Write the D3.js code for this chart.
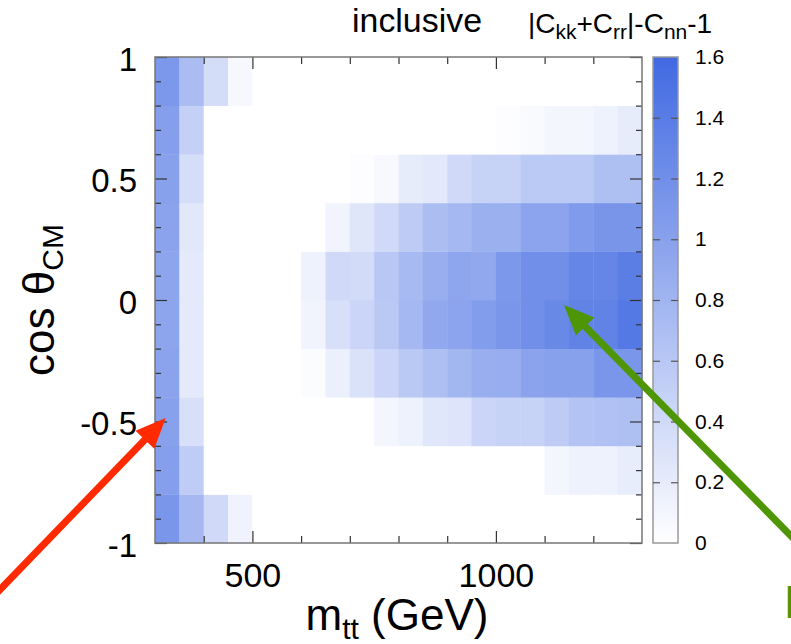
<!DOCTYPE html>
<html>
<head>
<meta charset="utf-8">
<script src="https://cdn.jsdelivr.net/npm/d3@7"></script>
<style>
  body { margin: 0; background: #fff; }
  text { font-family: "Liberation Sans", Arial, Helvetica, sans-serif; }
</style>
</head>
<body>
<div id="chart"></div>
<script>
// Bin edges.
const mttEdges = [300, 350, 400, 450, 500, 550, 600, 650, 700, 750, 800,
                  850, 900, 950, 1000, 1050, 1100, 1150, 1200, 1250, 1300];
const cosEdges = [-1, -0.8, -0.6, -0.4, -0.2, 0, 0.2, 0.4, 0.6, 0.8, 1];

// |Ckk+Crr|-Cnn-1 per cos bin (bottom to top), one value per mtt bin.
const binM10 = [1.12, 0.76, 0.40, 0.13, 0, 0, 0, 0, 0, 0, 0, 0, 0, 0, 0, 0, 0, 0, 0, 0];
const binM08 = [1.02, 0.54, 0, 0, 0, 0, 0, 0, 0, 0, 0, 0, 0, 0, 0, 0, 0.10, 0.14, 0.14, 0.19];
const binM06 = [1.00, 0.34, 0, 0, 0, 0, 0, 0, 0, 0.10, 0.14, 0.26, 0.28, 0.45, 0.48, 0.48, 0.56, 0.64, 0.66, 0.68];
const binM04 = [0.98, 0.23, 0, 0, 0, 0, 0.03, 0.16, 0.31, 0.45, 0.58, 0.68, 0.78, 0.86, 0.88, 0.98, 1.00, 1.00, 1.12, 1.12];
const binM02 = [0.96, 0.23, 0, 0, 0, 0, 0.12, 0.33, 0.45, 0.58, 0.76, 0.93, 0.97, 1.05, 1.12, 1.20, 1.26, 1.32, 1.32, 1.43];
const binP00 = [0.96, 0.23, 0, 0, 0, 0, 0.14, 0.40, 0.38, 0.60, 0.74, 0.86, 0.95, 0.93, 1.10, 1.20, 1.20, 1.30, 1.30, 1.38];
const binP02 = [0.98, 0.25, 0, 0, 0, 0, 0, 0.12, 0.27, 0.40, 0.55, 0.70, 0.76, 0.84, 0.84, 0.97, 0.97, 1.07, 1.13, 1.13];
const binP04 = [1.00, 0.35, 0, 0, 0, 0, 0, 0, 0.02, 0.06, 0.20, 0.24, 0.40, 0.48, 0.48, 0.57, 0.57, 0.57, 0.68, 0.68];
const binP06 = [1.02, 0.50, 0, 0, 0, 0, 0, 0, 0, 0, 0, 0, 0, 0, 0.02, 0.05, 0.10, 0.10, 0.14, 0.20];
const binP08 = [1.10, 0.72, 0.36, 0.07, 0, 0, 0, 0, 0, 0, 0, 0, 0, 0, 0, 0, 0, 0, 0, 0];
const rows = [binM10, binM08, binM06, binM04, binM02, binP00, binP02, binP04, binP06, binP08];

// Ticks.
const xMajorTicks = [500, 1000];
const xMinorTicks = [400, 600, 700, 800, 900, 1100, 1200];
const yMajorTicks = [-1, -0.5, 0, 0.5, 1];
const yMinorTicks = [-0.9, -0.8, -0.7, -0.6, -0.4, -0.3, -0.2, -0.1, 0.1, 0.2, 0.3, 0.4, 0.6, 0.7, 0.8, 0.9];
const colorTicks = [0, 0.2, 0.4, 0.6, 0.8, 1, 1.2, 1.4, 1.6];
const colorDashes = [0.2, 0.4, 0.6, 0.8, 1, 1.2, 1.4];

// Annotation arrows, in data coordinates (tip, tail).
const arrows = [
  { tip: [322, -0.486], tail: [-27, -1.21], color: '#ff2a00' },
  { tip: [1140, -0.021], tail: [1635, -1.03], color: '#4e9606' }
];

// Dimensions.
const W = 791, H = 644;
const plot = { left: 155, right: 642, top: 57, bottom: 543 };
const bar = { left: 653, right: 678 };
const plain = d => String(d);

const svg = d3.select('#chart').append('svg')
  .attr('width', W).attr('height', H);

const x = d3.scaleLinear().domain([300, 1300]).range([plot.left, plot.right]);
const y = d3.scaleLinear().domain([-1, 1]).range([plot.bottom, plot.top]);
const color = d3.scaleLinear().domain([0, 1.6]).range(['#ffffff', '#4169e1'])
  .interpolate(d3.interpolateRgb).clamp(true);

// Cells.
const cells = [];
rows.forEach((row, i) => row.forEach((v, j) => cells.push({ i, j, v })));

svg.append('g').selectAll('rect')
  .data(cells)
  .enter().append('rect')
  .attr('x', d => x(mttEdges[d.j]))
  .attr('y', d => y(cosEdges[d.i + 1]))
  .attr('width', d => x(mttEdges[d.j + 1]) - x(mttEdges[d.j]) + 0.4)
  .attr('height', d => y(cosEdges[d.i]) - y(cosEdges[d.i + 1]) + 0.4)
  .attr('fill', d => color(d.v));

// Inner ticks on all four sides.
function ticks(axis, tx, ty, vals, size) {
  svg.append('g')
    .attr('transform', `translate(${tx},${ty})`)
    .call(axis.tickValues(vals).tickSize(size).tickFormat(''))
    .call(g => g.select('.domain').remove())
    .call(g => g.selectAll('line').attr('stroke', '#333').attr('stroke-width', 1.2));
}
ticks(d3.axisTop(x), 0, plot.bottom, xMajorTicks, 12);
ticks(d3.axisTop(x), 0, plot.bottom, xMinorTicks, 7);
ticks(d3.axisBottom(x), 0, plot.top, xMajorTicks, 12);
ticks(d3.axisBottom(x), 0, plot.top, xMinorTicks, 7);
ticks(d3.axisRight(y), plot.left, 0, yMajorTicks, 12);
ticks(d3.axisRight(y), plot.left, 0, yMinorTicks, 6);
ticks(d3.axisLeft(y), plot.right, 0, yMajorTicks, 12);
ticks(d3.axisLeft(y), plot.right, 0, yMinorTicks, 6);

// Frame.
svg.append('rect')
  .attr('x', plot.left).attr('y', plot.top)
  .attr('width', plot.right - plot.left).attr('height', plot.bottom - plot.top)
  .attr('fill', 'none').attr('stroke', '#777').attr('stroke-width', 1.5);

// Tick labels.
svg.append('g')
  .attr('transform', `translate(0,${plot.bottom})`)
  .call(d3.axisBottom(x).tickValues(xMajorTicks).tickSize(0).tickPadding(20).tickFormat(plain))
  .call(g => g.select('.domain').remove())
  .call(g => g.selectAll('text').attr('font-size', 34).attr('fill', '#000')
    .attr('font-family', '"Liberation Sans", Arial, sans-serif'));

svg.append('g')
  .attr('transform', `translate(${plot.left},0)`)
  .call(d3.axisLeft(y).tickValues(yMajorTicks).tickSize(0).tickPadding(18).tickFormat(plain))
  .call(g => g.select('.domain').remove())
  .call(g => g.selectAll('text').attr('font-size', 33).attr('fill', '#000')
    .attr('dy', '0.4em')
    .attr('font-family', '"Liberation Sans", Arial, sans-serif'));

// Colour bar.
const cScale = d3.scaleLinear().domain([0, 1.6]).range([plot.bottom, plot.top]);
const grad = svg.append('defs').append('linearGradient')
  .attr('id', 'cbar').attr('x1', 0).attr('y1', 1).attr('x2', 0).attr('y2', 0);
grad.selectAll('stop')
  .data(colorTicks)
  .enter().append('stop')
  .attr('offset', d => d / 1.6)
  .attr('stop-color', d => color(d));

svg.append('rect')
  .attr('x', bar.left).attr('y', plot.top)
  .attr('width', bar.right - bar.left).attr('height', plot.bottom - plot.top)
  .attr('fill', 'url(#cbar)').attr('stroke', '#999').attr('stroke-width', 1.5);

[[d3.axisRight(cScale), bar.left], [d3.axisLeft(cScale), bar.right]].forEach(([ax, tx]) => {
  svg.append('g')
    .attr('transform', `translate(${tx},0)`)
    .call(ax.tickValues(colorDashes).tickSize(7).tickFormat(''))
    .call(g => g.select('.domain').remove())
    .call(g => g.selectAll('line').attr('stroke', '#555').attr('stroke-width', 1.2));
});

svg.append('g')
  .attr('transform', `translate(${bar.right},0)`)
  .call(d3.axisRight(cScale).tickValues(colorTicks).tickSize(0).tickPadding(17).tickFormat(plain))
  .call(g => g.select('.domain').remove())
  .call(g => g.selectAll('text').attr('font-size', 21).attr('fill', '#000')
    .attr('font-family', '"Liberation Sans", Arial, sans-serif'));

// Titles.
svg.append('text')
  .attr('x', 352).attr('y', 32)
  .attr('font-size', 33)
  .attr('textLength', 130).attr('lengthAdjust', 'spacingAndGlyphs')
  .text('inclusive');

const zLabel = svg.append('text')
  .attr('x', 528).attr('y', 33)
  .attr('font-size', 28);
[['|C', 0], ['kk', 1], ['+C', 0], ['rr', 1], ['|-C', 0], ['nn', 1], ['-1', 0]]
  .forEach(([t, sub], k, arr) => {
    const prevSub = k > 0 ? arr[k - 1][1] : 0;
    zLabel.append('tspan')
      .attr('dy', sub ? 6 : (prevSub ? -6 : 0))
      .attr('font-size', sub ? 21 : 28)
      .text(t);
  });

const xTitle = svg.append('text')
  .attr('x', 397).attr('y', 630)
  .attr('text-anchor', 'middle')
  .attr('font-size', 44);
xTitle.append('tspan').text('m');
xTitle.append('tspan').attr('font-size', 30).attr('dy', 9).text('tt');
xTitle.append('tspan').attr('dy', -9).text(' (GeV)');

const yTitle = svg.append('text')
  .attr('transform', 'translate(54,300) rotate(-90)')
  .attr('text-anchor', 'middle')
  .attr('font-size', 44);
yTitle.append('tspan').text('cos θ');
yTitle.append('tspan').attr('font-size', 30).attr('dy', 9).text('CM');

// Arrows.
arrows.forEach(a => {
  const [x1, y1] = [x(a.tail[0]), y(a.tail[1])];
  const [x2, y2] = [x(a.tip[0]), y(a.tip[1])];
  const len = Math.hypot(x2 - x1, y2 - y1);
  const ux = (x2 - x1) / len, uy = (y2 - y1) / len;
  const head = 30, half = 13;
  const bx = x2 - ux * head, by = y2 - uy * head;
  svg.append('line')
    .attr('x1', x1).attr('y1', y1).attr('x2', bx + ux * 2).attr('y2', by + uy * 2)
    .attr('stroke', a.color).attr('stroke-width', 7);
  svg.append('polygon')
    .attr('points', [[x2, y2], [bx - uy * half, by + ux * half], [bx + uy * half, by - ux * half]]
      .map(p => p.join(',')).join(' '))
    .attr('fill', a.color);
});

svg.append('text')
  .attr('x', 784).attr('y', 618)
  .attr('font-size', 46)
  .attr('fill', '#4e9606')
  .text('L');
</script>
</body>
</html>
